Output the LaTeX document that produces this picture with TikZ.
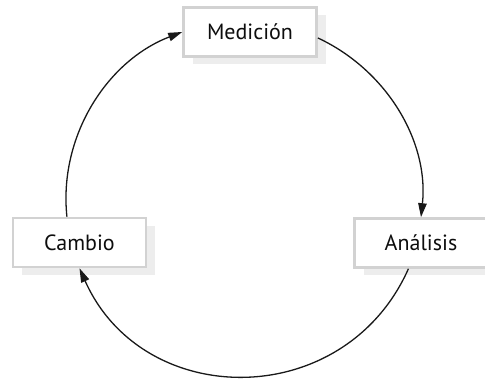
\documentclass[tikz,border=0pt]{standalone}
\usepackage{fontspec}
\setmainfont{PT Sans}
\usepackage{xcolor}
\usepackage{tikz}
\usetikzlibrary{positioning, arrows.meta, shadows}

\begin{document}
\begin{tikzpicture}[
    x=1pt, y=1pt,
    stage box/.style={draw=gray!35, line width=2.6pt, fill=white,
        minimum width=133pt, minimum height=49pt,
        font=\fontsize{22}{25}\selectfont, text=black!95,
        drop shadow={shadow xshift=9pt, shadow yshift=-8pt, fill=gray!14, opacity=1}},
    cycle arrow/.style={black!90, line width=1.3pt, -{Triangle[length=14pt, width=8.5pt]}}
]

\useasboundingbox (0,0) rectangle (485,379);

% --- 1. Stages ---
\node[stage box] (med) at (250,347) {Medición};
\node[stage box] (cam) at (79.5,136.5) {Cambio};
\node[stage box] (ana) at (421,136) {Análisis};

% --- 2. Cycle arcs (clockwise) ---
\draw[cycle arrow] (med.-5) to[out=-25, in=84, looseness=0.94] (ana.north);
\draw[cycle arrow] (ana.-116) to[out=-114, in=-66, looseness=1.22] (cam.south);
\draw[cycle arrow] (cam.116) to[out=96, in=201, looseness=0.95] (med.west);

\end{tikzpicture}
\end{document}
